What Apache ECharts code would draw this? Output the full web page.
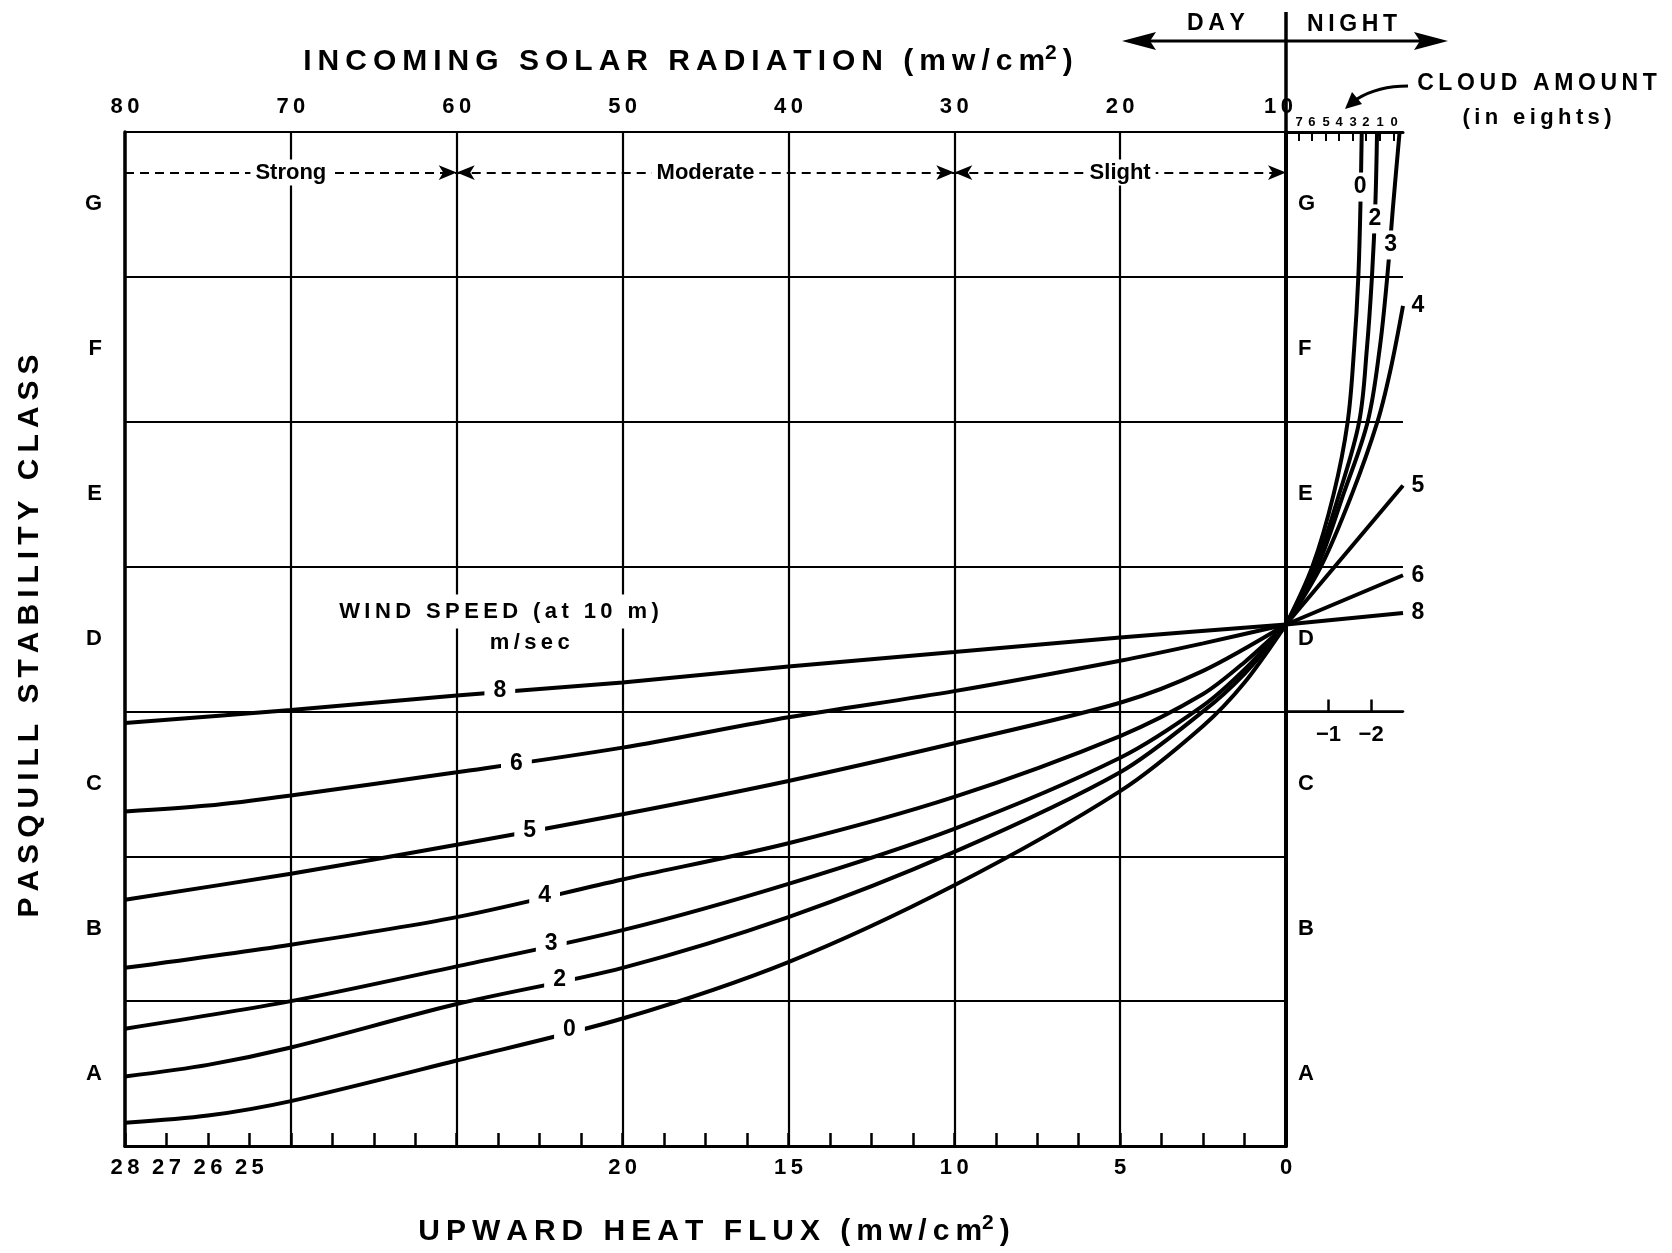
<!DOCTYPE html>
<html><head><meta charset="utf-8">
<script src="https://cdn.jsdelivr.net/npm/echarts@6/dist/echarts.min.js"></script>
<style>html,body{margin:0;padding:0;background:#fff}#c{width:1672px;height:1253px}</style>
</head><body><div id="c"></div>
<script>
// ---------------- DATA ----------------
const classes = ['A', 'B', 'C', 'D', 'E', 'F', 'G'];
const windSpeeds = ['0', '2', '3', '4', '5', '6', '8'];

// top axis: incoming solar radiation (mw/cm2)
const solarTicks = [80, 70, 60, 50, 40, 30, 20, 10];
// bottom axis: upward heat flux labels, placed on the solar-radiation scale
const heatFluxTickPos = [10, 20, 30, 40, 50, 72.5, 75, 77.5, 80];
const heatFluxTickLabels = ['0', '5', '10', '15', '20', '25', '26', '27', '28'];
// night part: cloud amount (eighths) along the top, heat flux along the bottom
const cloudTickPos = [-0.31, -0.61, -0.94, -1.25, -1.58, -1.88, -2.21, -2.54];
const cloudTickLabels = ['7', '6', '5', '4', '3', '2', '1', '0'];
const nightHFTickPos = [-1, -2];
const nightHFTickLabels = ['\u22121', '\u22122'];

// day curves: [solar radiation, stability class value (A=0..G=7)]
const day0 = [[80,0.16],[75,0.21],[70,0.31],[60,0.59],[50,0.88],[40,1.27],[30,1.80],[20,2.45],[15,2.90],[12.5,3.20],[10,3.60]];
const day2 = [[80,0.48],[75,0.56],[70,0.68],[60,0.98],[50,1.23],[40,1.58],[30,2.03],[20,2.58],[15,3.00],[12.5,3.26],[10,3.60]];
const day3 = [[80,0.81],[70,1.00],[60,1.24],[50,1.49],[40,1.81],[30,2.19],[20,2.68],[15,3.04],[12.5,3.29],[10,3.60]];
const day4 = [[80,1.23],[70,1.39],[60,1.58],[50,1.84],[40,2.09],[30,2.41],[20,2.83],[15,3.12],[12.5,3.34],[10,3.60]];
const day5 = [[80,1.70],[70,1.88],[60,2.08],[50,2.29],[40,2.52],[30,2.78],[20,3.06],[15,3.28],[10,3.60]];
const day6 = [[80,2.31],[75,2.35],[70,2.42],[60,2.58],[50,2.75],[40,2.96],[30,3.14],[20,3.35],[15,3.47],[10,3.60]];
const day8 = [[80,2.92],[70,3.01],[60,3.11],[50,3.20],[40,3.31],[30,3.41],[20,3.51],[10,3.60]];

// night curves: [heat flux (negative), stability class value]
const night0 = [[0,3.60],[-0.62,4.0],[-1.12,4.5],[-1.45,5.0],[-1.60,5.5],[-1.70,6.0],[-1.75,6.5],[-1.78,7.0]];
const night2 = [[0,3.60],[-0.68,4.0],[-1.25,4.5],[-1.72,5.0],[-1.90,5.5],[-2.02,6.0],[-2.10,6.5],[-2.14,7.0]];
const night3 = [[0,3.60],[-0.74,4.0],[-1.35,4.5],[-1.92,5.0],[-2.20,5.5],[-2.38,6.0],[-2.52,6.5],[-2.67,7.0]];
const night4 = [[0,3.60],[-0.82,4.0],[-1.55,4.5],[-2.15,5.0],[-2.45,5.35],[-2.75,5.80]];
const night5 = [[0,3.60],[-2.75,4.56]];
const night6 = [[0,3.60],[-2.75,3.94]];
const night8 = [[0,3.60],[-2.75,3.68]];

// in-line curve labels
const dayLabelPos = [[53.2,0.80],[53.8,1.15],[54.3,1.40],[54.7,1.73],[55.6,2.18],[56.4,2.64],[57.4,3.14]];
const nightLabelPos = [[-1.74,6.62],[-2.09,6.40],[-2.46,6.22]];

// solar intensity bands along the top
const intensityBounds = [80, 60, 30, 10];
const intensityNames = ['Strong', 'Moderate', 'Slight'];
const intensityLabelX = [70, 45, 20];
const intensityY = 6.72;

// ---------------- CHART ----------------
const chart = echarts.init(document.getElementById('c'), null, {renderer: 'canvas', width: 1672, height: 1253});
const FONT = "'Liberation Sans', Arial, sans-serif";
const NARROW = "'Liberation Sans Narrow', 'Liberation Sans', Arial, sans-serif";
const sp = (s, ch) => s.split('').join(ch || '\u2009');
const lbl = {color: '#000', fontFamily: FONT, fontWeight: 'bold', fontSize: 22};
const black = (w) => ({color: '#000', width: w});
const NIGHT_MIN = -2.75;
const hiddenItem = {color: '#fff', opacity: 1};

const dayCurves = [day0, day2, day3, day4, day5, day6, day8];
const nightCurves = [night0, night2, night3, night4, night5, night6, night8];

const series = [];
dayCurves.forEach((d, i) => series.push({
  type: 'line', name: windSpeeds[i], xAxisIndex: 0, yAxisIndex: 0, data: d,
  smooth: 0.3, symbol: 'none', lineStyle: black(4), z: 3, silent: true
}));
nightCurves.forEach((d, i) => series.push({
  type: 'line', name: windSpeeds[i], xAxisIndex: 2, yAxisIndex: 3, data: d,
  smooth: 0.35, symbol: 'none', lineStyle: black(4), z: 3, silent: true
}));
// labels at the right-hand ends of night curves that reach the right edge
const endItems = [];
nightCurves.forEach((d, i) => {
  const last = d[d.length - 1];
  if (last[0] <= NIGHT_MIN) endItems.push({value: last, name: windSpeeds[i]});
});
series.push({
  type: 'scatter', xAxisIndex: 2, yAxisIndex: 3, silent: true, z: 10, clip: false,
  data: endItems, symbolSize: 1, itemStyle: {color: 'rgba(0,0,0,0)', opacity: 1},
  label: {show: true, position: 'right', distance: 8, formatter: '{b}', ...lbl, fontSize: 23}
});
series.push({
  type: 'scatter', xAxisIndex: 0, yAxisIndex: 0, silent: true, z: 10,
  data: dayLabelPos.map((p, i) => ({value: p, name: windSpeeds[i]})),
  symbolSize: 1, itemStyle: hiddenItem,
  label: {show: true, position: 'inside', formatter: '{b}', ...lbl, fontSize: 23, backgroundColor: '#fff', padding: [3, 9]}
});
series.push({
  type: 'scatter', xAxisIndex: 2, yAxisIndex: 3, silent: true, z: 10,
  data: nightLabelPos.map((p, i) => ({value: p, name: windSpeeds[i]})),
  symbolSize: 1, itemStyle: hiddenItem,
  label: {show: true, position: 'inside', formatter: '{b}', ...lbl, fontSize: 23, backgroundColor: '#fff', padding: [3, 1]}
});
series.push({
  type: 'scatter', xAxisIndex: 0, yAxisIndex: 0, silent: true, z: 10,
  data: intensityNames.map((n, i) => ({value: [intensityLabelX[i], intensityY], name: n})),
  symbolSize: 1, itemStyle: hiddenItem,
  label: {show: true, position: 'inside', formatter: '{b}', ...lbl, backgroundColor: '#fff', padding: [2, 5]},
  markLine: {
    silent: true, animation: false, symbolSize: [11, 18],
    lineStyle: {color: '#000', width: 2, type: [9, 6], opacity: 1},
    label: {show: false},
    data: intensityNames.map((n, i) => [
      {coord: [intensityBounds[i], intensityY], symbol: i === 0 ? 'none' : 'arrow'},
      {coord: [intensityBounds[i + 1], intensityY], symbol: 'arrow'}
    ])
  }
});
series.push({
  type: 'scatter', xAxisIndex: 0, yAxisIndex: 0, silent: true, z: 9,
  data: [{value: [57.45, 3.69], name: sp('WIND SPEED (at 10 m)')}, {value: [55.6, 3.47], name: sp('m/sec')}],
  symbolSize: 1, itemStyle: hiddenItem,
  label: {show: true, position: 'inside', formatter: '{b}', ...lbl, backgroundColor: '#fff', padding: [6, 6]}
});

const titleRich = (size) => ({
  t: {fontFamily: NARROW, fontWeight: 'bold', fontSize: size, color: '#000', lineHeight: size + 8},
  s: {fontFamily: NARROW, fontWeight: 'bold', fontSize: Math.round(size * 0.7), color: '#000', verticalAlign: 'top', lineHeight: size + 8}
});

const option = {
  backgroundColor: '#fff',
  animation: false,
  grid: [
    {left: 125, top: 132, width: 1161, height: 1014},
    {left: 1286, top: 132, width: 117, height: 579.4}
  ],
  xAxis: [
    {gridIndex: 0, type: 'value', position: 'top', min: 10, max: 80, interval: 10, inverse: true,
     axisLine: {show: true, lineStyle: black(3)}, axisTick: {show: false},
     axisLabel: {customValues: solarTicks,
       formatter: v => v === 10 ? '{e|' + sp(String(v)) + '}' : sp(String(v)),
       rich: {e: {...lbl, padding: [0, 15, 0, 0]}},
       margin: 14, ...lbl},
     splitLine: {show: true, lineStyle: black(2.2)}},
    {gridIndex: 0, type: 'value', position: 'bottom', min: 10, max: 80, interval: 2.5, inverse: true,
     axisLine: {show: true, lineStyle: black(3)},
     axisTick: {show: true, inside: true, length: 13, lineStyle: black(2.5)},
     axisLabel: {customValues: heatFluxTickPos, showMinLabel: true, showMaxLabel: true,
       formatter: v => sp(heatFluxTickLabels[heatFluxTickPos.indexOf(v)] || ''), margin: 11, ...lbl},
     splitLine: {show: false}},
    {gridIndex: 1, type: 'value', position: 'top', min: NIGHT_MIN, max: 0, inverse: true,
     axisLine: {show: true, lineStyle: black(3)},
     axisTick: {show: true, customValues: cloudTickPos, inside: true, length: 9, lineStyle: black(2)},
     axisLabel: {customValues: cloudTickPos, formatter: v => cloudTickLabels[cloudTickPos.indexOf(v)] || '', margin: 3, ...lbl, fontSize: 13},
     splitLine: {show: false}},
    {gridIndex: 1, type: 'value', position: 'bottom', min: NIGHT_MIN, max: 0, inverse: true,
     axisLine: {show: true, lineStyle: black(2.5)},
     axisTick: {show: true, customValues: nightHFTickPos, inside: true, length: 12, lineStyle: black(2.5)},
     axisLabel: {customValues: nightHFTickPos, formatter: v => nightHFTickLabels[nightHFTickPos.indexOf(v)] || '', margin: 13, ...lbl},
     splitLine: {show: false}}
  ],
  yAxis: [
    {gridIndex: 0, type: 'value', position: 'left', min: 0, max: 7, interval: 1,
     axisLine: {show: true, lineStyle: black(3.5)}, axisTick: {show: false}, axisLabel: {show: false},
     splitLine: {show: true, lineStyle: black(1.8)}},
    {gridIndex: 0, type: 'category', position: 'left', data: classes,
     axisLine: {show: false}, axisTick: {show: false}, splitLine: {show: false},
     axisLabel: {margin: 23, ...lbl}},
    {gridIndex: 0, type: 'category', position: 'right', data: classes,
     axisLine: {show: true, lineStyle: black(4)}, axisTick: {show: false}, splitLine: {show: false},
     axisLabel: {margin: 12, ...lbl}},
    {gridIndex: 1, type: 'value', position: 'right', min: 3, max: 7, interval: 1,
     axisLine: {show: true, lineStyle: black(3)}, axisTick: {show: false}, axisLabel: {show: false},
     splitLine: {show: true, lineStyle: black(1.8)}}
  ],
  series: series,
  graphic: [
    {type: 'text', x: 688, y: 62, silent: true, style: {
      text: '{t|' + sp('INCOMING SOLAR RADIATION (mw/cm') + '}{s|2}{t|\u2009)}',
      align: 'center', verticalAlign: 'middle', rich: titleRich(30)}},
    {type: 'text', x: 714, y: 1232, silent: true, style: {
      text: '{t|' + sp('UPWARD HEAT FLUX (mw/cm') + '}{s|2}{t|\u2009)}',
      align: 'center', verticalAlign: 'middle', rich: titleRich(30)}},
    {type: 'text', x: 30, y: 636, rotation: Math.PI / 2, silent: true, style: {
      text: '{t|' + sp('PASQUILL STABILITY CLASS') + '}',
      align: 'center', verticalAlign: 'middle', rich: titleRich(30)}},
    // day / night divider and arrow
    {type: 'line', silent: true, shape: {x1: 1286, y1: 12, x2: 1286, y2: 132}, style: {stroke: '#000', lineWidth: 3.5}},
    {type: 'line', silent: true, shape: {x1: 1145, y1: 41, x2: 1425, y2: 41}, style: {stroke: '#000', lineWidth: 3}},
    {type: 'polygon', silent: true, shape: {points: [[1122, 41], [1156, 32], [1150, 41], [1156, 50]]}, style: {fill: '#000'}},
    {type: 'polygon', silent: true, shape: {points: [[1448, 41], [1414, 32], [1420, 41], [1414, 50]]}, style: {fill: '#000'}},
    {type: 'text', x: 1216, y: 24, silent: true, style: {text: sp('DAY'), align: 'center', verticalAlign: 'middle', fill: '#000', font: "bold 23px " + FONT}},
    {type: 'text', x: 1352, y: 25, silent: true, style: {text: sp('NIGHT'), align: 'center', verticalAlign: 'middle', fill: '#000', font: "bold 23px " + FONT}},
    // cloud amount note
    {type: 'text', x: 1537, y: 84, silent: true, style: {text: sp('CLOUD AMOUNT'), align: 'center', verticalAlign: 'middle', fill: '#000', font: "bold 23px " + FONT}},
    {type: 'text', x: 1537, y: 118, silent: true, style: {text: sp('(in eights)'), align: 'center', verticalAlign: 'middle', fill: '#000', font: "bold 22px " + FONT}},
    {type: 'bezierCurve', silent: true, shape: {x1: 1408, y1: 86, cpx1: 1378, cpy1: 86, x2: 1357, y2: 99}, style: {stroke: '#000', lineWidth: 3, fill: null}},
    {type: 'polygon', silent: true, shape: {points: [[1345, 109], [1362, 104], [1352, 92]]}, style: {fill: '#000'}}
  ]
};
chart.setOption(option);
</script>
</body></html>
